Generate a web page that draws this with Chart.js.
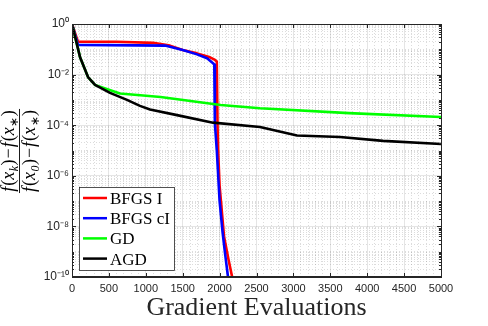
<!DOCTYPE html>
<html>
<head>
<meta charset="utf-8">
<script src="https://cdn.jsdelivr.net/npm/chart.js@4.4.0/dist/chart.umd.min.js"></script>
<style>
  html, body { margin: 0; padding: 0; background: #fff; }
  canvas { display: block; }
</style>
</head>
<body>
<canvas id="chart" width="488" height="326"></canvas>
<script>
// values
const seriesNames = ['BFGS I', 'BFGS cI', 'GD', 'AGD'];
const seriesColors = ['#ff0000', '#0000ff', '#00ff00', '#000000'];

const bfgsIX = [0, 81, 600, 1100, 1328, 1500, 1694, 1870, 1938, 1962, 1972, 1980, 2000, 2060, 2120, 2170];
const bfgsIY = [1, 0.2, 0.2, 0.18, 0.14, 0.093, 0.069, 0.048, 0.038, 0.033, 1e-4, 1e-5, 4e-7, 4e-9, 5e-10, 1e-10];

const bfgsCIX = [0, 81, 1260, 1500, 1694, 1830, 1911, 1928, 1936, 1962, 2000, 2040, 2075, 2114];
const bfgsCIY = [1, 0.15, 0.14, 0.093, 0.063, 0.044, 0.028, 0.025, 1.2e-4, 1e-5, 1e-7, 6e-9, 8e-10, 1e-10];

const gdX = [0, 108, 217, 312, 650, 1200, 2015, 2547, 3753, 5000];
const gdY = [1, 0.05, 8e-3, 3.9e-3, 1.8e-3, 1.3e-3, 6.3e-4, 4.7e-4, 3e-4, 2.1e-4];

const agdX = [0, 108, 217, 312, 515, 745, 921, 1057, 1423, 1911, 2547, 3049, 3631, 4214, 5000];
const agdY = [1, 0.05, 8e-3, 3.9e-3, 1.9e-3, 1e-3, 5.8e-4, 4.2e-4, 2.5e-4, 1.26e-4, 8.5e-5, 3.9e-5, 3.4e-5, 2.4e-5, 1.8e-5];

const xTickValues = [0, 500, 1000, 1500, 2000, 2500, 3000, 3500, 4000, 4500, 5000];
const yTickValues = [1e-10, 1e-8, 1e-6, 1e-4, 1e-2, 1];
const yTickLabels = ['10\u207B\u00B9\u2070', '10\u207B\u2078', '10\u207B\u2076', '10\u207B\u2074', '10\u207B\u00B2', '10\u2070'];

// minor grid positions
let xMinor = [];
for (let v = 0; v <= 5000; v += 100) {
    if (v % 500 !== 0) xMinor.push(v);
}
let yMinor = [];
for (let k = -10; k < 0; k++) {
    for (let m = 1; m < 10; m++) {
        if (m === 1 && k % 2 === 0) continue;
        yMinor.push(m * Math.pow(10, k));
    }
}

const tickFont = { family: '"Liberation Sans", Arial, sans-serif', size: 11 };
const majorGrid = 'rgba(38,38,38,0.12)';
const minorGrid = 'rgba(38,38,38,0.16)';

function toPoints(xs, ys) {
    return xs.map((x, i) => ({ x: x, y: ys[i] }));
}

function drawRuns(ctx, runs, cx, y) {
    let total = 0;
    runs.forEach(r => { ctx.font = r[1]; total += ctx.measureText(r[0]).width + (r[3] || 0); });
    let cur = cx - total / 2;
    runs.forEach(r => {
        ctx.font = r[1];
        ctx.fillText(r[0], cur, y + (r[2] || 0));
        cur += ctx.measureText(r[0]).width + (r[3] || 0);
    });
    return total;
}

const it = sz => 'italic ' + sz + 'px "Liberation Serif", serif';
const rm = sz => sz + 'px "Liberation Serif", serif';

function fracRuns(sub) {
    return [
        ['f', it(18), 0, 1], ['(', rm(18)], ['x', it(18), 0, 0.5], [sub, it(12), 4, 0.5], [')', rm(18), 0, 1],
        ['\u2212', rm(18), 0, 1],
        ['f', it(18), 0, 1], ['(', rm(18)], ['x', it(18), 0, 0.5], ['\u2217', rm(12), 4, 0.5], [')', rm(18)]
    ];
}

const decorations = {
    id: 'decorations',
    afterDraw(chart) {
        const { ctx, chartArea: a, scales } = chart;
        ctx.save();

        // inward tick marks
        ctx.strokeStyle = '#262626';
        ctx.lineWidth = 1;
        ctx.beginPath();
        scales.x.ticks.forEach(t => {
            const px = Math.round(scales.x.getPixelForValue(t.value)) + 0.5;
            ctx.moveTo(px, a.bottom); ctx.lineTo(px, a.bottom - 4);
            ctx.moveTo(px, a.top); ctx.lineTo(px, a.top + 4);
        });
        scales.y.ticks.forEach(t => {
            const py = Math.round(scales.y.getPixelForValue(t.value)) + 0.5;
            ctx.moveTo(a.left, py); ctx.lineTo(a.left + 4, py);
            ctx.moveTo(a.right, py); ctx.lineTo(a.right - 4, py);
        });
        scales.y2.ticks.forEach(t => {
            const py = Math.round(scales.y2.getPixelForValue(t.value)) + 0.5;
            ctx.moveTo(a.left, py); ctx.lineTo(a.left + 2, py);
            ctx.moveTo(a.right, py); ctx.lineTo(a.right - 2, py);
        });
        ctx.stroke();

        // box
        ctx.strokeRect(Math.round(a.left) + 0.5, Math.round(a.top) + 0.5, Math.round(a.width), Math.round(a.height) - 1);

        // legend
        const lx = 79, ly = 187, lw = 95, lh = 83;
        ctx.fillStyle = '#ffffff';
        ctx.fillRect(lx, ly, lw, lh);
        ctx.strokeStyle = '#262626';
        ctx.lineWidth = 0.8;
        ctx.strokeRect(lx + 0.5, ly + 0.5, lw, lh);
        seriesNames.forEach((name, i) => {
            const yy = 198 + i * 20.2;
            ctx.strokeStyle = seriesColors[i];
            ctx.lineWidth = 2.5;
            ctx.beginPath();
            ctx.moveTo(83, yy); ctx.lineTo(107, yy);
            ctx.stroke();
            ctx.fillStyle = '#000000';
            ctx.font = rm(17);
            ctx.textBaseline = 'alphabetic';
            ctx.fillText(name, 110, yy + 6);
        });

        // y axis title (fraction)
        ctx.translate(19, 151);
        ctx.rotate(-Math.PI / 2);
        ctx.fillStyle = '#000000';
        ctx.textBaseline = 'alphabetic';
        const w1 = drawRuns(ctx, fracRuns('k'), 0, -5);
        const w2 = drawRuns(ctx, fracRuns('0'), 0, 16);
        const bw = Math.max(w1, w2) + 2;
        ctx.strokeStyle = '#000000';
        ctx.lineWidth = 0.9;
        ctx.beginPath();
        ctx.moveTo(-bw / 2, 0.5); ctx.lineTo(bw / 2, 0.5);
        ctx.stroke();

        ctx.restore();
    }
};

const datasets = [
    [bfgsIX, bfgsIY, 4],
    [bfgsCIX, bfgsCIY, 3],
    [gdX, gdY, 2],
    [agdX, agdY, 1]
].map((s, i) => ({
    label: seriesNames[i],
    data: toPoints(s[0], s[1]),
    borderColor: seriesColors[i],
    backgroundColor: seriesColors[i],
    borderWidth: 2.6,
    pointRadius: 0,
    tension: 0,
    fill: false,
    borderJoinStyle: 'round',
    order: s[2]
}));

new Chart(document.getElementById('chart'), {
    type: 'line',
    data: { datasets: datasets },
    options: {
        responsive: false,
        animation: false,
        devicePixelRatio: 1,
        layout: { padding: { top: 24, right: 47, left: 0, bottom: 0 } },
        plugins: { legend: { display: false }, tooltip: { enabled: false } },
        scales: {
            x: {
                type: 'linear', min: 0, max: 5000,
                afterBuildTicks: s => { s.ticks = xTickValues.map(v => ({ value: v })); },
                ticks: {
                    font: tickFont, color: '#262626', padding: 5, maxRotation: 0, autoSkip: false,
                    callback: v => String(v)
                },
                grid: { color: majorGrid, drawTicks: false },
                border: { display: true, color: '#262626' },
                title: {
                    display: true,
                    text: 'Gradient Evaluations',
                    color: '#262626',
                    font: { family: '"Liberation Serif", serif', size: 26, lineHeight: 1.2 },
                    padding: { top: 0, bottom: 2 }
                },
                afterFit: s => { s.height = 49; }
            },
            x2: {
                type: 'linear', min: 0, max: 5000, position: 'bottom',
                afterBuildTicks: s => { s.ticks = xMinor.map(v => ({ value: v })); },
                ticks: { display: false, autoSkip: false },
                grid: { color: minorGrid, drawTicks: false },
                border: { display: false, dash: [1, 2] },
                afterFit: s => { s.height = 0; }
            },
            y: {
                type: 'logarithmic', min: 1e-10, max: 1,
                afterBuildTicks: s => { s.ticks = yTickValues.map(v => ({ value: v })); },
                ticks: {
                    font: { family: '"Liberation Sans", Arial, sans-serif', size: 12 },
                    color: '#262626', padding: 3, autoSkip: false,
                    callback: (v, i) => yTickLabels[i]
                },
                grid: { color: majorGrid, drawTicks: false },
                border: { display: true, color: '#262626' },
                afterFit: s => { s.width = 72; }
            },
            y2: {
                type: 'logarithmic', min: 1e-10, max: 1, position: 'left',
                afterBuildTicks: s => { s.ticks = yMinor.map(v => ({ value: v })); },
                ticks: { display: false, autoSkip: false },
                grid: { color: minorGrid, drawTicks: false },
                border: { display: false, dash: [1, 2] },
                afterFit: s => { s.width = 0; }
            }
        }
    },
    plugins: [decorations]
});
</script>
</body>
</html>
